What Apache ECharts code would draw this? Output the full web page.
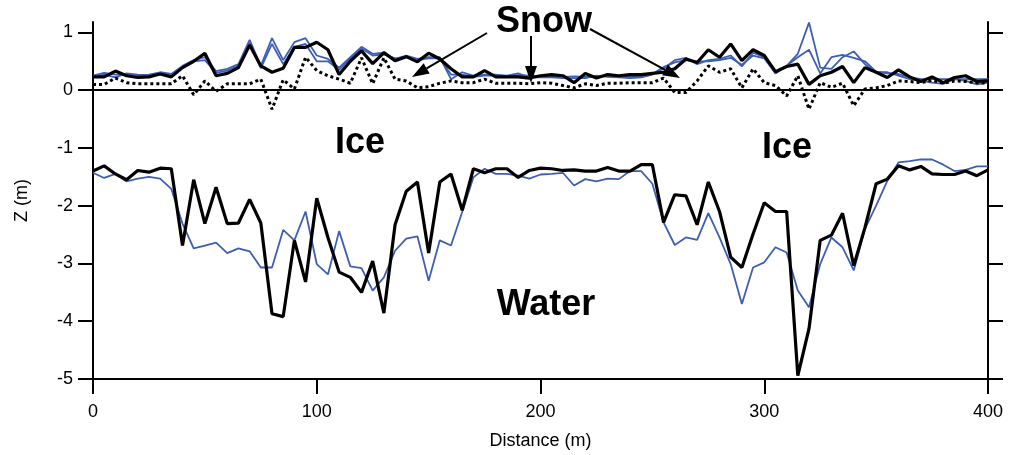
<!DOCTYPE html>
<html>
<head>
<meta charset="utf-8">
<script src="https://cdn.jsdelivr.net/npm/echarts@6/dist/echarts.min.js"></script>
<style>
  html, body { margin: 0; padding: 0; background: #fff; }
  #chart { width: 1010px; height: 455px; }
</style>
</head>
<body>
<div id="chart"></div>
<script>
// Profile positions along the transect (m)
const distance = [
  0, 5, 10, 15, 20, 25, 30, 35, 40, 45,
  50, 55, 60, 65, 70, 75, 80, 85, 90, 95,
  100, 105, 110, 115, 120, 125, 130, 135, 140, 145,
  150, 155, 160, 165, 170, 175, 180, 185, 190, 195,
  200, 205, 210, 215, 220, 225, 230, 235, 240, 245,
  250, 255, 260, 265, 270, 275, 280, 285, 290, 295,
  300, 305, 310, 315, 320, 325, 330, 335, 340, 345,
  350, 355, 360, 365, 370, 375, 380, 385, 390, 395, 400
];

// Snow surface, measured (m)
const snowSurface = [
  0.23, 0.23, 0.33, 0.25, 0.22, 0.23, 0.28, 0.23, 0.39, 0.50,
  0.64, 0.25, 0.29, 0.39, 0.78, 0.42, 0.31, 0.38, 0.74, 0.74,
  0.83, 0.70, 0.27, 0.50, 0.68, 0.46, 0.65, 0.51, 0.58, 0.49,
  0.64, 0.54, 0.37, 0.23, 0.23, 0.34, 0.23, 0.23, 0.23, 0.21,
  0.25, 0.27, 0.25, 0.13, 0.29, 0.21, 0.27, 0.25, 0.27, 0.27,
  0.29, 0.31, 0.37, 0.54, 0.48, 0.70, 0.57, 0.80, 0.51, 0.70,
  0.60, 0.32, 0.41, 0.45, 0.10, 0.25, 0.31, 0.41, 0.13, 0.39,
  0.31, 0.22, 0.35, 0.23, 0.15, 0.23, 0.13, 0.22, 0.25, 0.15, 0.16
];

// Snow surface, first survey (m)
const snowSurveyA = [
  0.25, 0.30, 0.27, 0.27, 0.26, 0.27, 0.31, 0.28, 0.42, 0.52,
  0.57, 0.33, 0.37, 0.45, 0.87, 0.42, 0.90, 0.52, 0.83, 0.90,
  0.60, 0.54, 0.39, 0.57, 0.75, 0.63, 0.65, 0.54, 0.60, 0.54,
  0.57, 0.57, 0.19, 0.31, 0.25, 0.27, 0.27, 0.25, 0.29, 0.22,
  0.22, 0.22, 0.21, 0.21, 0.21, 0.25, 0.23, 0.22, 0.21, 0.22,
  0.27, 0.37, 0.52, 0.56, 0.45, 0.52, 0.54, 0.60, 0.41, 0.65,
  0.57, 0.29, 0.42, 0.63, 1.17, 0.39, 0.37, 0.57, 0.67, 0.45,
  0.31, 0.31, 0.25, 0.19, 0.16, 0.13, 0.11, 0.19, 0.16, 0.10, 0.13
];

// Snow surface, second survey (m)
const snowSurveyB = [
  0.22, 0.27, 0.22, 0.29, 0.27, 0.26, 0.28, 0.25, 0.40, 0.50,
  0.52, 0.30, 0.34, 0.42, 0.82, 0.38, 0.80, 0.45, 0.75, 0.80,
  0.50, 0.50, 0.35, 0.55, 0.72, 0.60, 0.62, 0.55, 0.57, 0.52,
  0.55, 0.55, 0.27, 0.27, 0.23, 0.25, 0.25, 0.23, 0.26, 0.25,
  0.24, 0.24, 0.23, 0.24, 0.23, 0.23, 0.25, 0.24, 0.23, 0.24,
  0.28, 0.40, 0.48, 0.52, 0.50, 0.50, 0.52, 0.56, 0.44, 0.60,
  0.55, 0.30, 0.42, 0.57, 0.70, 0.29, 0.57, 0.61, 0.56, 0.50,
  0.32, 0.29, 0.28, 0.22, 0.19, 0.19, 0.19, 0.19, 0.19, 0.19, 0.19
];

// Ice surface (snow/ice interface) (m)
const iceSurface = [
  0.10, 0.10, 0.21, 0.13, 0.11, 0.11, 0.11, 0.11, 0.25, -0.08,
  0.16, -0.02, 0.11, 0.11, 0.11, 0.19, -0.33, 0.18, 0.02, 0.57,
  0.34, 0.25, 0.19, 0.12, 0.56, 0.11, 0.56, 0.19, 0.16, 0.04,
  0.06, 0.12, 0.16, 0.13, 0.13, 0.19, 0.12, 0.12, 0.12, 0.11,
  0.13, 0.12, 0.08, 0.04, 0.11, 0.08, 0.12, 0.12, 0.13, 0.13,
  0.13, 0.21, -0.04, -0.04, 0.16, 0.42, 0.31, 0.37, 0.04, 0.37,
  0.13, 0.08, -0.10, 0.25, -0.33, 0.13, 0.05, 0.12, -0.27, 0.02,
  0.04, 0.08, 0.16, 0.15, 0.13, 0.17, 0.12, 0.16, 0.15, 0.13, 0.12
];

// Ice bottom, measured (m)
const iceBottom = [
  -1.40, -1.31, -1.45, -1.55, -1.39, -1.42, -1.35, -1.36, -2.69, -1.55,
  -2.31, -1.68, -2.31, -2.30, -1.89, -2.30, -3.87, -3.92, -2.60, -3.32,
  -1.87, -2.55, -3.15, -3.24, -3.50, -2.96, -3.86, -2.33, -1.75, -1.59,
  -2.82, -1.59, -1.45, -2.08, -1.36, -1.43, -1.36, -1.36, -1.51, -1.39,
  -1.35, -1.36, -1.39, -1.38, -1.40, -1.40, -1.34, -1.40, -1.40, -1.29,
  -1.29, -2.29, -1.81, -1.83, -2.33, -1.59, -2.10, -2.89, -3.07, -2.49,
  -1.95, -2.10, -2.10, -4.94, -4.13, -2.60, -2.51, -2.13, -3.04, -2.38,
  -1.62, -1.54, -1.31, -1.38, -1.32, -1.45, -1.46, -1.46, -1.40, -1.48, -1.38
];

// Ice bottom, modelled (m)
const iceBottomModel = [
  -1.43, -1.52, -1.45, -1.58, -1.53, -1.50, -1.53, -1.71, -2.31, -2.74,
  -2.69, -2.64, -2.82, -2.74, -2.79, -3.07, -3.07, -2.42, -2.60, -2.10,
  -3.01, -3.19, -2.44, -3.05, -3.08, -3.47, -3.24, -2.78, -2.57, -2.53,
  -3.30, -2.60, -2.69, -2.11, -1.51, -1.36, -1.45, -1.45, -1.48, -1.53,
  -1.46, -1.45, -1.43, -1.65, -1.54, -1.58, -1.53, -1.54, -1.40, -1.40,
  -1.62, -2.29, -2.68, -2.55, -2.59, -2.13, -2.55, -3.01, -3.70, -3.07,
  -2.98, -2.72, -2.81, -3.47, -3.76, -3.01, -2.55, -2.72, -3.12, -2.40,
  -2.00, -1.57, -1.25, -1.23, -1.20, -1.20, -1.29, -1.40, -1.38, -1.32, -1.32
];

const xTicks = [0, 100, 200, 300, 400];
const yTicks = [-5, -4, -3, -2, -1, 0, 1];

const FONT = '"Liberation Sans", Arial, Helvetica, sans-serif';
const BLUE = '#3d5fb3';
const INK = '#000';

function pairs(values) {
  return distance.map((d, i) => [d, values[i]]);
}

function thinBlue(name, values) {
  return {
    name, type: 'line', data: pairs(values), showSymbol: false,
    lineStyle: { color: BLUE, width: 1.8 }, z: 2
  };
}

// Arrow from (x1,y1) pointing at (x2,y2), with a filled head
function arrow(x1, y1, x2, y2) {
  const ang = Math.atan2(y2 - y1, x2 - x1);
  const len = 17, half = 6;
  const bx = x2 - len * Math.cos(ang), by = y2 - len * Math.sin(ang);
  const px = -Math.sin(ang) * half, py = Math.cos(ang) * half;
  return [
    { type: 'line', shape: { x1, y1, x2: bx, y2: by }, style: { stroke: INK, lineWidth: 2 }, z: 100 },
    { type: 'polygon', shape: { points: [[x2, y2], [bx + px, by + py], [bx - px, by - py]] }, style: { fill: INK }, z: 100 }
  ];
}

function label(text, x, y) {
  return {
    type: 'text', x, y, z: 100,
    style: { text, font: 'bold 36px ' + FONT, fill: INK, align: 'center', verticalAlign: 'middle' }
  };
}

const yAxisBase = {
  type: 'value', min: -5, max: 1.18,
  splitLine: { show: false },
  axisLine: { show: true, onZero: false, lineStyle: { color: INK, width: 2 } },
  axisTick: { show: true, customValues: yTicks, length: 15, lineStyle: { color: INK, width: 2 } }
};

const option = {
  animation: false,
  backgroundColor: '#fff',
  grid: { left: 93, right: 22, top: 22, bottom: 76 },
  xAxis: {
    type: 'value', min: 0, max: 400,
    splitLine: { show: false },
    axisLine: { show: true, onZero: false, lineStyle: { color: INK, width: 2 } },
    axisTick: { show: true, customValues: xTicks, length: 15, lineStyle: { color: INK, width: 2 } },
    axisLabel: { customValues: xTicks, margin: 24, color: INK, fontSize: 18, fontFamily: FONT },
    name: 'Distance (m)', nameLocation: 'middle', nameGap: 53,
    nameTextStyle: { color: INK, fontSize: 18, fontFamily: FONT }
  },
  yAxis: [
    Object.assign({}, yAxisBase, {
      position: 'left',
      axisLabel: { customValues: yTicks, margin: 20, color: INK, fontSize: 18, fontFamily: FONT },
      name: 'Z (m)', nameLocation: 'middle', nameGap: 62,
      nameTextStyle: { color: INK, fontSize: 18, fontFamily: FONT }
    }),
    Object.assign({}, yAxisBase, {
      position: 'right',
      axisLabel: { show: false }
    })
  ],
  series: [
    thinBlue('Snow surface A', snowSurveyA),
    thinBlue('Snow surface B', snowSurveyB),
    thinBlue('Ice bottom model', iceBottomModel),
    {
      name: 'Ice surface', type: 'line', data: pairs(iceSurface), showSymbol: false,
      lineStyle: { color: INK, width: 3, type: [3, 3] }, z: 3
    },
    {
      name: 'Snow surface', type: 'line', data: pairs(snowSurface), showSymbol: false,
      lineStyle: { color: INK, width: 3.2 }, z: 4,
      markLine: {
        silent: true, symbol: 'none', label: { show: false },
        lineStyle: { color: INK, width: 2, type: 'solid' },
        data: [{ yAxis: 0 }]
      }
    },
    {
      name: 'Ice bottom', type: 'line', data: pairs(iceBottom), showSymbol: false,
      lineStyle: { color: INK, width: 3.2 }, z: 4
    }
  ],
  graphic: [
    label('Snow', 544, 22),
    label('Ice', 360, 143),
    label('Ice', 787, 148),
    label('Water', 546, 305),
    ...arrow(487, 33, 412, 77),
    ...arrow(531, 36, 531, 83),
    ...arrow(590, 29, 680, 78)
  ]
};

const chart = echarts.init(document.getElementById('chart'));
chart.setOption(option);
</script>
</body>
</html>
